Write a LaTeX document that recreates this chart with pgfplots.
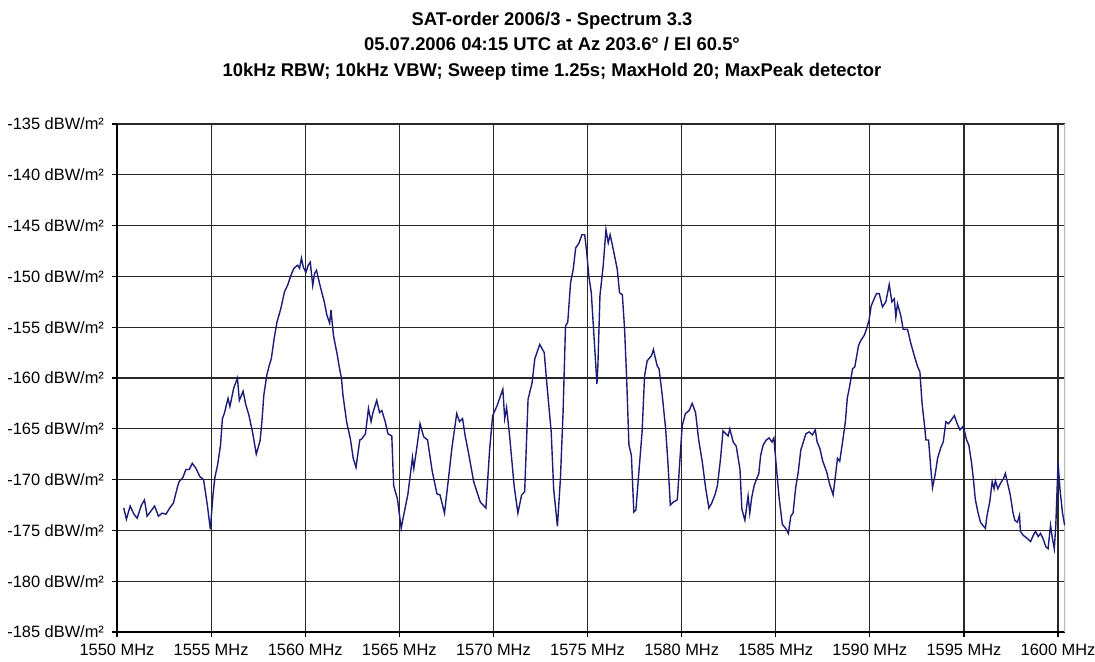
\documentclass[border=0pt]{standalone}
\usepackage{fontspec}
\setmainfont{Liberation Sans}
\usepackage{pgfplots}
\pgfplotsset{compat=1.18}
\definecolor{trace}{RGB}{28,28,120}
\definecolor{gridc}{RGB}{40,40,40}
\begin{document}
\begin{tikzpicture}
\path[use as bounding box] (-58.5pt,-14.5pt) rectangle (489pt,316pt);
\begin{axis}[
  at={(0,0)}, anchor=south west,
  scale only axis, width=474pt, height=254pt,
  xmin=1550, xmax=1600.37, ymin=-185, ymax=-135,
  xtick={1550,1555,...,1600},
  ytick={-185,-180,...,-135},
  xticklabels={1550 MHz,1555 MHz,1560 MHz,1565 MHz,1570 MHz,1575 MHz,1580 MHz,1585 MHz,1590 MHz,1595 MHz,1600 MHz},
  yticklabels={-185 dBW/m²,-180 dBW/m²,-175 dBW/m²,-170 dBW/m²,-165 dBW/m²,-160 dBW/m²,-155 dBW/m²,-150 dBW/m²,-145 dBW/m²,-140 dBW/m²,-135 dBW/m²},
  axis x line*=bottom, axis y line*=left,
  axis line style={black, line width=0.6pt},
  grid=major, major grid style={gridc, line width=0.6pt},
  tick align=outside, major tick length=2.5pt,
  tick style={black, line width=0.6pt},
  ticklabel style={font=\fontsize{8.2}{9.5}\selectfont},
  xticklabel style={yshift=0pt},
  yticklabel style={xshift=-0.5pt},
]
\draw[gray!55, line width=0.6pt] (rel axis cs:1,0) -- (rel axis cs:1,1);
\addplot[trace, line width=0.7pt] coordinates {
(1550.36,-172.8) (1550.5,-173.9) (1550.7,-172.6) (1550.9,-173.4) (1551.07,-173.8)
(1551.3,-172.5) (1551.46,-172.0) (1551.6,-173.6) (1551.8,-173.1) (1552.0,-172.6)
(1552.2,-173.6) (1552.4,-173.3) (1552.6,-173.4) (1552.8,-172.8) (1553.0,-172.3)
(1553.2,-170.8) (1553.3,-170.2) (1553.5,-169.8) (1553.66,-169.0) (1553.84,-169.0)
(1554.0,-168.4) (1554.2,-168.9) (1554.4,-169.7) (1554.6,-170.0) (1554.8,-172.5)
(1554.96,-174.9) (1555.1,-171.5) (1555.2,-169.8) (1555.35,-168.5) (1555.5,-166.6)
(1555.6,-164.0) (1555.7,-163.5) (1555.9,-162.0) (1556.0,-162.8) (1556.2,-161.0)
(1556.4,-160.0) (1556.5,-162.2) (1556.7,-161.3) (1556.84,-162.6) (1557.0,-163.6)
(1557.2,-165.3) (1557.4,-167.5) (1557.6,-166.2) (1557.7,-164.3) (1557.8,-161.7)
(1557.96,-159.7) (1558.1,-158.7) (1558.2,-158.1) (1558.35,-156.1) (1558.5,-154.5)
(1558.7,-153.2) (1558.9,-151.5) (1559.06,-150.9) (1559.24,-149.9) (1559.4,-149.2)
(1559.6,-148.9) (1559.7,-149.2) (1559.8,-148.2) (1559.9,-149.1) (1560.04,-149.6)
(1560.16,-148.9) (1560.27,-148.6) (1560.4,-150.9) (1560.5,-149.7) (1560.6,-149.4)
(1560.75,-150.6) (1560.87,-151.5) (1561.0,-152.4) (1561.15,-153.8) (1561.3,-154.6)
(1561.37,-153.3) (1561.5,-155.8) (1561.7,-157.7) (1561.8,-158.8) (1561.93,-160.1)
(1562.0,-161.6) (1562.2,-164.3) (1562.4,-166.0) (1562.55,-167.9) (1562.7,-168.8)
(1562.9,-166.1) (1563.0,-166.0) (1563.2,-165.5) (1563.36,-163.0) (1563.5,-164.3)
(1563.6,-163.4) (1563.8,-162.2) (1563.95,-163.4) (1564.07,-163.2) (1564.25,-164.3)
(1564.4,-165.5) (1564.6,-165.7) (1564.7,-170.6) (1564.9,-171.9) (1565.1,-174.8)
(1565.2,-173.8) (1565.45,-171.5) (1565.7,-167.8) (1565.77,-168.9) (1565.95,-166.6)
(1566.1,-164.5) (1566.3,-165.8) (1566.5,-166.1) (1566.75,-169.2) (1567.0,-171.4)
(1567.16,-171.5) (1567.4,-173.3) (1567.6,-170.1) (1567.8,-166.8) (1568.05,-163.5)
(1568.2,-164.3) (1568.36,-164.0) (1568.5,-165.7) (1568.7,-167.6) (1568.95,-170.2)
(1569.16,-171.4) (1569.3,-172.2) (1569.6,-172.8) (1569.7,-169.9) (1569.8,-167.0)
(1569.96,-163.7) (1570.2,-162.7) (1570.5,-161.1) (1570.6,-164.0) (1570.7,-162.9)
(1570.86,-165.7) (1571.1,-170.6) (1571.3,-173.3) (1571.5,-171.5) (1571.66,-171.2)
(1571.84,-162.1) (1572.05,-160.5) (1572.2,-158.1) (1572.46,-156.7) (1572.7,-157.5)
(1572.85,-160.8) (1573.07,-165.3) (1573.2,-170.9) (1573.4,-174.6) (1573.56,-169.9)
(1573.7,-163.4) (1573.83,-154.9) (1573.95,-154.5) (1574.1,-150.6) (1574.24,-149.3)
(1574.37,-147.2) (1574.55,-146.7) (1574.7,-145.9) (1574.85,-145.9) (1574.95,-147.5)
(1575.07,-150.0) (1575.2,-151.6) (1575.34,-155.8) (1575.5,-160.6) (1575.55,-158.8)
(1575.66,-151.9) (1575.83,-149.0) (1575.98,-145.4) (1576.1,-146.7) (1576.2,-145.9)
(1576.33,-147.0) (1576.58,-149.3) (1576.7,-151.6) (1576.85,-151.8) (1576.97,-155.2)
(1577.08,-160.1) (1577.2,-166.6) (1577.33,-167.6) (1577.46,-173.2) (1577.57,-173.0)
(1577.73,-169.2) (1577.9,-165.3) (1578.03,-159.8) (1578.17,-158.3) (1578.4,-157.8)
(1578.5,-157.2) (1578.7,-158.8) (1578.8,-159.1) (1578.97,-161.7) (1579.15,-165.0)
(1579.27,-168.3) (1579.4,-172.5) (1579.56,-172.2) (1579.77,-172.0) (1579.9,-168.3)
(1580.03,-164.7) (1580.2,-163.5) (1580.4,-163.2) (1580.56,-162.5) (1580.74,-163.4)
(1580.9,-166.0) (1581.1,-168.3) (1581.28,-170.9) (1581.45,-172.8) (1581.6,-172.3)
(1581.77,-171.5) (1581.9,-170.6) (1582.07,-167.9) (1582.2,-165.2) (1582.35,-165.5)
(1582.47,-165.7) (1582.56,-165.0) (1582.74,-166.3) (1582.9,-166.7) (1583.1,-169.0)
(1583.2,-172.9) (1583.36,-174.0) (1583.53,-171.6) (1583.62,-173.3) (1583.72,-171.8)
(1583.85,-170.6) (1583.97,-170.0) (1584.1,-169.4) (1584.2,-167.6) (1584.33,-166.6)
(1584.5,-166.1) (1584.65,-165.9) (1584.8,-166.3) (1584.9,-165.9) (1585.04,-168.9)
(1585.18,-171.8) (1585.35,-174.4) (1585.53,-174.8) (1585.67,-175.3) (1585.8,-173.6)
(1585.92,-173.3) (1586.06,-170.8) (1586.2,-169.2) (1586.33,-167.1) (1586.45,-166.4)
(1586.6,-165.5) (1586.77,-165.3) (1586.95,-165.6) (1587.1,-165.1) (1587.2,-166.3)
(1587.34,-166.9) (1587.5,-168.2) (1587.7,-169.2) (1587.87,-170.5) (1588.05,-171.5)
(1588.2,-169.2) (1588.28,-167.9) (1588.4,-168.2) (1588.55,-166.3) (1588.7,-164.3)
(1588.8,-162.0) (1588.94,-160.7) (1589.08,-159.1) (1589.2,-158.9) (1589.4,-156.8)
(1589.52,-156.3) (1589.7,-155.8) (1589.82,-155.2) (1589.96,-154.3) (1590.07,-152.9)
(1590.23,-152.2) (1590.35,-151.7) (1590.5,-151.7) (1590.67,-153.0) (1590.85,-152.5)
(1591.03,-150.8) (1591.17,-152.5) (1591.3,-152.2) (1591.38,-154.0) (1591.47,-152.7)
(1591.65,-153.9) (1591.77,-155.2) (1592.0,-155.2) (1592.18,-156.6) (1592.36,-157.8)
(1592.54,-158.9) (1592.66,-159.4) (1592.77,-162.4) (1592.9,-164.6) (1592.98,-166.1)
(1593.12,-166.1) (1593.24,-168.9) (1593.33,-170.8) (1593.47,-169.5) (1593.6,-167.9)
(1593.78,-166.8) (1593.9,-166.3) (1594.04,-164.3) (1594.18,-164.5) (1594.3,-164.2)
(1594.49,-163.7) (1594.66,-164.6) (1594.79,-165.1) (1594.93,-164.8) (1595.0,-165.0)
(1595.14,-166.1) (1595.26,-166.6) (1595.4,-168.3) (1595.5,-169.9) (1595.6,-171.9)
(1595.74,-173.2) (1595.88,-174.2) (1596.0,-174.5) (1596.14,-174.8) (1596.23,-173.5)
(1596.37,-172.2) (1596.5,-170.2) (1596.6,-170.9) (1596.67,-170.1) (1596.8,-170.9)
(1596.93,-170.4) (1597.1,-169.9) (1597.2,-169.4) (1597.3,-170.2) (1597.46,-171.5)
(1597.6,-173.2) (1597.7,-174.0) (1597.84,-174.2) (1597.95,-173.5) (1598.0,-175.1)
(1598.16,-175.5) (1598.37,-175.8) (1598.54,-176.1) (1598.68,-175.5) (1598.8,-175.1)
(1598.95,-175.6) (1599.07,-175.3) (1599.2,-175.8) (1599.35,-176.6) (1599.47,-176.8)
(1599.6,-174.5) (1599.7,-175.8) (1599.8,-176.8) (1599.88,-174.5) (1600.0,-168.3)
(1600.1,-170.9) (1600.23,-173.2) (1600.35,-174.5)
};
\end{axis}
\node[font=\bfseries\fontsize{9.2}{12.8}\selectfont, align=center, anchor=center]
  at (217.5pt,293pt)
  {SAT-order 2006/3 - Spectrum 3.3\\
   05.07.2006 04:15 UTC at Az 203.6° / El 60.5°\\
   10kHz RBW; 10kHz VBW; Sweep time 1.25s; MaxHold 20; MaxPeak detector};
\end{tikzpicture}
\end{document}
